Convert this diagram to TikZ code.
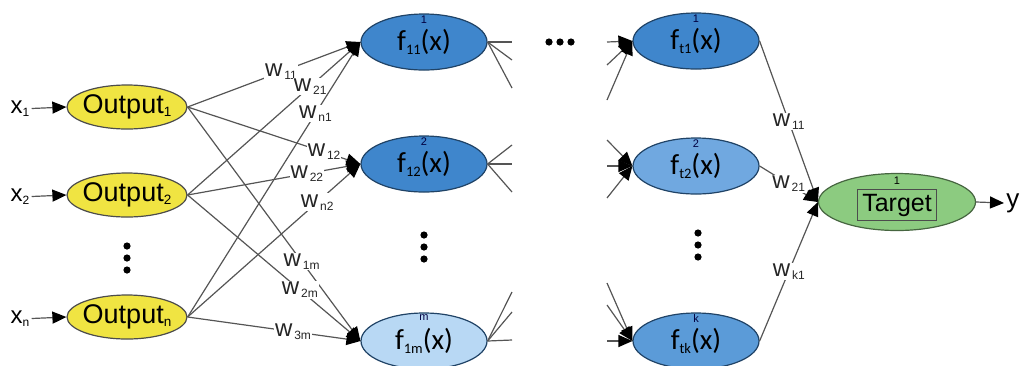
\documentclass[tikz,border=0pt]{standalone}
\usepackage{fontspec}
\setmainfont{Liberation Sans}
\newfontfamily\calibfont{Carlito}
\usetikzlibrary{arrows.meta,positioning,shapes.geometric}
\definecolor{yel}{HTML}{F0E442}
\definecolor{blueA}{HTML}{3F86CC}
\definecolor{blueB}{HTML}{70A8E0}
\definecolor{blueC}{HTML}{5B9BD8}
\definecolor{blueD}{HTML}{B8D8F4}
\definecolor{grn}{HTML}{8CCB80}
\definecolor{edgecol}{HTML}{555555}
\newcommand{\lsub}[1]{\raisebox{-0.12em}{\scalebox{0.5}{#1}}}
\newcommand{\ctr}[1]{\makebox[0pt]{#1}}

\begin{document}
\begin{tikzpicture}[x=0.5pt,y=-0.5pt,
  xlbl/.style={font=\fontsize{12}{12}\selectfont, inner sep=1pt},
  outnode/.style={ellipse, draw=gray!60!black, line width=0.6pt, fill=yel, inner sep=0pt,
                  minimum width=60pt, minimum height=22pt, font=\fontsize{13.5}{14}\selectfont},
  fnode/.style={ellipse, draw=blueA!50!black, line width=0.6pt, inner sep=0pt,
                minimum width=63pt, minimum height=28pt, font=\calibfont\fontsize{14.5}{15}\selectfont},
  num/.style={font=\fontsize{5.5}{6}\selectfont, inner sep=0.5pt, text=blue!25!black},
  arr/.style={edgecol, line width=0.6pt, -{Triangle[length=7pt,width=6pt,color=black]}},
  stub/.style={edgecol, line width=0.6pt},
  wlbl/.style={fill=white, inner sep=0.5pt, text=black!85, font=\fontsize{12}{12}\selectfont},
  dot/.style={circle, fill=black, inner sep=0pt, minimum size=3.6pt},
]
\useasboundingbox (0,0) rectangle (1020,365);

\node[xlbl] (x1) at (20,109) {x\lsub{1}};
\node[xlbl] (x2) at (20,197) {x\lsub{2}};
\node[xlbl] (xn) at (20,319) {x\lsub{n}};

\node[outnode] (o1) at (127,107) {\ctr{Output\lsub{1}}};
\node[outnode] (o2) at (127,195) {\ctr{Output\lsub{2}}};
\node[outnode] (on) at (127,317) {\ctr{Output\lsub{n}}};

\node[fnode, fill=blueA] (f11) at (424,42) {\ctr{f\lsub{11}(x)}};
\node[fnode, fill=blueA] (f12) at (424,164) {\ctr{f\lsub{12}(x)}};
\node[fnode, fill=blueD] (f1m) at (424,341) {\ctr{f\lsub{1m}(x)}};
\node[num, below=0.5pt of f11.north] (n11) {1};
\node[num, below=0.5pt of f12.north] (n12) {2};
\node[num, below=0.5pt of f1m.north] (n1m) {m};

\node[fnode, fill=blueA] (ft1) at (696,41) {\ctr{f\lsub{t1}(x)}};
\node[fnode, fill=blueB] (ft2) at (696,166) {\ctr{f\lsub{t2}(x)}};
\node[fnode, fill=blueC] (ftk) at (696,341) {\ctr{f\lsub{tk}(x)}};
\node[num, below=0.5pt of ft1.north] (nt1) {1};
\node[num, below=0.5pt of ft2.north] (nt2) {2};
\node[num, below=0.5pt of ftk.north] (ntk) {k};

\node[ellipse, draw=grn!50!black, line width=0.6pt, fill=grn, inner sep=0pt,
      minimum width=78.5pt, minimum height=28.5pt] (tg) at (897,202) {};
\node[draw=black!70, line width=0.5pt, inner sep=0pt, minimum width=39.5pt,
      minimum height=15.5pt, font=\fontsize{12.5}{13}\selectfont] (tbox) at (897,205) {Target};
\node[num, text=black] (tn) at (897,181) {1};
\node[xlbl, anchor=west, font=\fontsize{13}{13}\selectfont] (y) at (1004,203) {y};

\foreach \n/\cx/\cy in {a/127/258, b/424/247, c/698/245}
  \foreach \k [count=\j] in {-12,0,12}
    \node[dot] (d\n\j) at (\cx,{\cy+\k}) {};
\foreach \cx [count=\j] in {549,560,571}
  \node[dot] (h\j) at (\cx,42) {};

\draw[arr] (x1) -- (o1.west);
\draw[arr] (x2) -- (o2.west);
\draw[arr] (xn) -- (on.west);

\draw[arr] (o1.east) -- node[wlbl, pos=0.54] (w11) {w\kern0.08em\lsub{11}} (f11.west);
\draw[arr] (o2.east) -- node[wlbl, pos=0.71] (w21) {w\kern0.08em\lsub{21}} (f11.west);
\draw[arr] (on.east) -- node[wlbl, pos=0.74] (wn1) {w\kern0.08em\lsub{n1}} (f11.west);
\draw[arr] (o1.east) -- node[wlbl, pos=0.79] (w12) {w\kern0.08em\lsub{12}} (f12.west);
\draw[arr] (o2.east) -- node[wlbl, pos=0.69] (w22) {w\kern0.08em\lsub{22}} (f12.west);
\draw[arr] (on.east) -- node[wlbl, pos=0.75] (wn2) {w\kern0.08em\lsub{n2}} (f12.west);
\draw[arr] (o1.east) -- node[wlbl, pos=0.66] (w1m) {w\kern0.08em\lsub{1m}} (f1m.west);
\draw[arr] (o2.east) -- node[wlbl, pos=0.65] (w2m) {w\kern0.08em\lsub{2m}} (f1m.west);
\draw[arr] (on.east) -- node[wlbl, pos=0.61] (w3m) {w\kern0.08em\lsub{3m}} (f1m.west);

\foreach \y [count=\i] in {42,60,88} {
  \coordinate (sa\i) at (512,\y);
  \draw[stub] (f11.east) -- (sa\i);
}
\foreach \y [count=\i] in {145,164,192} {
  \coordinate (sb\i) at (512,\y);
  \draw[stub] (f12.east) -- (sb\i);
}
\foreach \y [count=\i] in {292,312,340} {
  \coordinate (sc\i) at (512,\y);
  \draw[stub] (f1m.east) -- (sc\i);
}

\foreach \y [count=\i] in {42,65,100} {
  \coordinate (ta\i) at (607,\y);
  \draw[arr] (ta\i) -- (ft1.west);
}
\foreach \y [count=\i] in {140,166,198} {
  \coordinate (tb\i) at (607,\y);
  \draw[arr] (tb\i) -- (ft2.west);
}
\foreach \y [count=\i] in {283,305,341} {
  \coordinate (tc\i) at (607,\y);
  \draw[arr] (tc\i) -- (ftk.west);
}

\draw[arr] (ft1.east) -- node[wlbl] (v11) {w\kern0.08em\lsub{11}} (tg.west);
\draw[arr] (ft2.east) -- node[wlbl] (v21) {w\kern0.08em\lsub{21}} (tg.west);
\draw[arr] (ftk.east) -- node[wlbl] (vk1) {w\kern0.08em\lsub{k1}} (tg.west);
\draw[arr] (tg.east) -- (y.west);
\end{tikzpicture}
\end{document}
